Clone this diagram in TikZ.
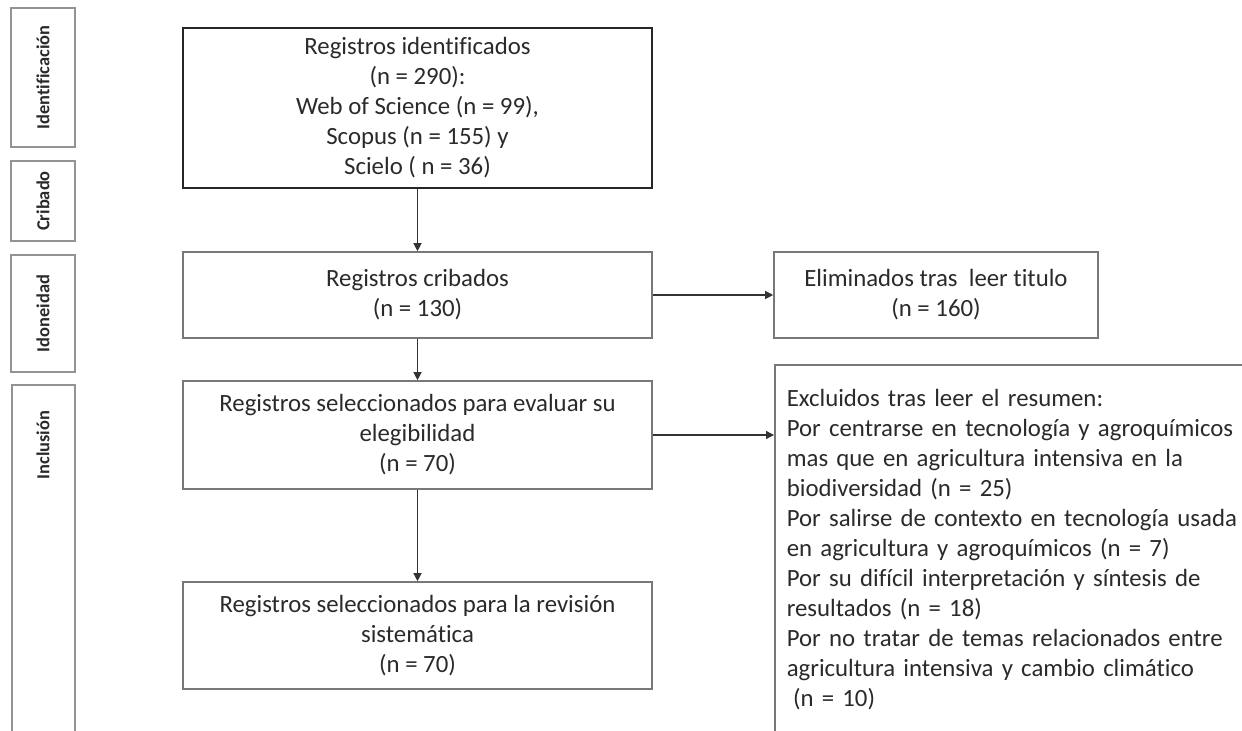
\documentclass[tikz,border=0pt]{standalone}
\usepackage{fontspec}
\setmainfont{Carlito}[Ligatures=NoCommon]
\usetikzlibrary{shapes.misc, shapes, arrows.meta}
\usetikzlibrary{positioning}

\definecolor{linegray}{RGB}{120,120,120}
\definecolor{textgray}{RGB}{42,42,42}

\begin{document}
\begin{tikzpicture}[x=0.5pt, y=-0.5pt,
		phasetext/.style={rotate=90, text=textgray, font=\fontsize{9.2}{11}\selectfont\bfseries, inner sep=0pt},
		phase/.style={phasetext, draw=linegray!80, line width=0.8pt},
		record/.style={draw=linegray, line width=0.8pt, align=center, text=textgray, font=\fontsize{12.4}{15}\selectfont, minimum width=234.5pt},
		link/.style={draw=black!80, line width=0.6pt, -{Triangle[length=4pt, width=4pt]}}]
		\useasboundingbox (0,0) rectangle (1242,731);
		\clip (0,0) rectangle (1242,731);

		% Phases (rotated labels on the left)
		\node[phase, minimum width=69.5pt, minimum height=32pt] (identificacion) at (43,77.5) {Identificación};
		\node[phase, minimum width=40pt, minimum height=32pt] (cribado) at (43,201) {Cribado};
		\node[phase, minimum width=58.5pt, minimum height=32pt] (idoneidad) at (43,313.5) {Idoneidad};
		\draw[draw=linegray!80, line width=0.8pt] (12,385) rectangle (75,760); % runs off the page
		\node[phasetext] (inclusion) at (43,445) {Inclusión};

		% Records
		\node[record, draw=black!85, line width=1.3pt, minimum height=80pt] (identificados) at (417.5,108) {Registros identificados\\(n = 290):\\Web of Science (n = 99),\\Scopus (n = 155) y\\Scielo ( n = 36)};
		\node[record, minimum height=43pt] (cribados) at (417.5,295) {Registros cribados\\(n = 130)};
		\node[record, minimum height=54pt] (idoneos) at (417.5,435) {Registros seleccionados para evaluar su\\elegibilidad\\(n = 70)};
		\node[record, minimum height=53.5pt] (incluidos) at (417.5,635.5) {Registros seleccionados para la revisión\\sistemática\\(n = 70)};

		% Exclusions
		\node[record, minimum width=162pt, minimum height=43pt] (eliminados) at (936,295) {Eliminados tras\ \ leer titulo\\(n = 160)};
		\node[record, align=left, anchor=north west, text width=250pt, inner xsep=6pt, inner ysep=12pt] (excluidos) at (774,364) {Excluidos tras leer el resumen:\\
			Por centrarse en tecnología y agroquímicos\\
			mas que en agricultura intensiva en la\\
			biodiversidad (n = 25)\\
			Por salirse de contexto en tecnología usada\\
			en agricultura y agroquímicos (n = 7)\\
			Por su difícil interpretación y síntesis de\\
			resultados (n = 18)\\
			Por no tratar de temas relacionados entre\\
			agricultura intensiva y cambio climático\\
			\hspace{0.25em}(n = 10)\\
			\mbox{}};

		% Flow
		\draw[link] (identificados) -- (cribados);
		\draw[link] (cribados) -- (idoneos);
		\draw[link] (idoneos) -- (incluidos);
		\draw[link] (cribados) -- (eliminados);
		\draw[link] (idoneos.east) -- (idoneos.east -| excluidos.west);
\end{tikzpicture}
\end{document}
